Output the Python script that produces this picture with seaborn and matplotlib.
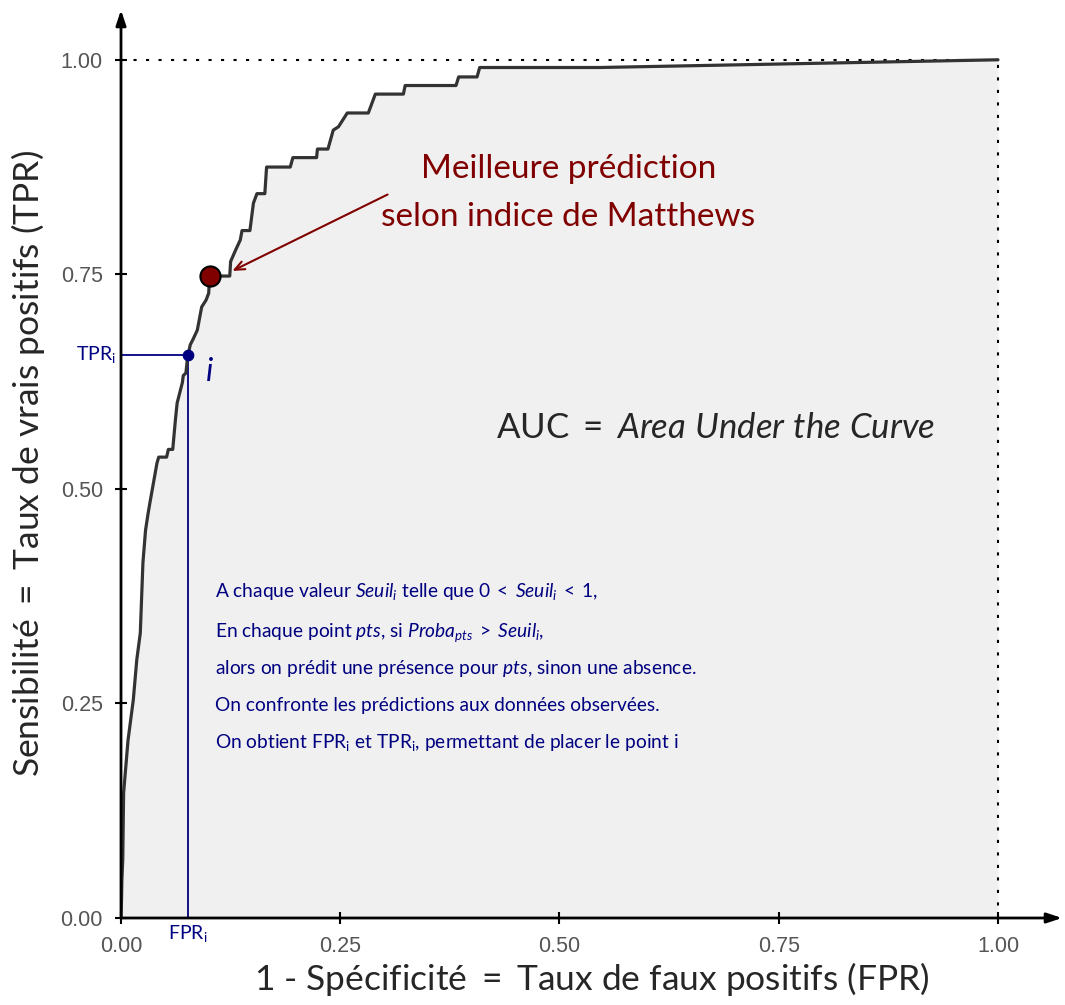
import numpy as np
import pandas as pd
import matplotlib
matplotlib.use("Agg")
import matplotlib.pyplot as plt
import seaborn as sns

# ROC curve (FPR, TPR)
fpr = [0.000, 0.0006, 0.001, 0.002, 0.003, 0.008, 0.014, 0.018, 0.022, 0.025,
       0.028, 0.031, 0.033, 0.041, 0.043, 0.052, 0.054, 0.059, 0.062, 0.064,
       0.070, 0.071, 0.074, 0.076, 0.079, 0.082, 0.087, 0.092, 0.097, 0.100,
       0.101, 0.124, 0.125, 0.131, 0.136, 0.138, 0.147, 0.151, 0.155, 0.164,
       0.166, 0.193, 0.196, 0.223, 0.224, 0.236, 0.242, 0.248, 0.253, 0.258,
       0.282, 0.290, 0.322, 0.324, 0.382, 0.385, 0.406, 0.409, 0.546, 1.000]
tpr = [0.000, 0.021, 0.044, 0.068, 0.146, 0.207, 0.254, 0.301, 0.332, 0.414,
       0.452, 0.472, 0.484, 0.530, 0.537, 0.537, 0.546, 0.546, 0.580, 0.600,
       0.624, 0.632, 0.635, 0.654, 0.668, 0.674, 0.685, 0.712, 0.720, 0.728,
       0.748, 0.748, 0.765, 0.779, 0.790, 0.801, 0.801, 0.833, 0.844, 0.844,
       0.875, 0.875, 0.886, 0.886, 0.896, 0.896, 0.918, 0.922, 0.930, 0.938,
       0.938, 0.960, 0.960, 0.970, 0.970, 0.980, 0.980, 0.991, 0.991, 1.000]

point_i = (0.0764, 0.656)      # FPR_i, TPR_i
best_point = (0.1015, 0.748)   # best Matthews point

ticks = [0.0, 0.25, 0.5, 0.75, 1.0]
tick_labels = ["0.00", "0.25", "0.50", "0.75", "1.00"]

explain_lines = [
    r"A chaque valeur $\mathit{Seuil_i}$ telle que $0\;<\;\mathit{Seuil_i}\;<\;1$,",
    r"En chaque point $\mathit{pts}$, si $\mathit{Proba_{pts}}\;>\;\mathit{Seuil_i}$,",
    r"alors on prédit une présence pour $\mathit{pts}$, sinon une absence.",
    "On confronte les prédictions aux données observées.",
    r"On obtient FPR$_\mathrm{i}$ et TPR$_\mathrm{i}$, permettant de placer le point i",
]

roc = pd.DataFrame({"fpr": fpr, "tpr": tpr})

sns.set_style("ticks")
plt.rcParams["font.family"] = ["Lato", "DejaVu Sans"]
plt.rcParams["mathtext.fontset"] = "custom"
plt.rcParams["mathtext.rm"] = "Lato"
plt.rcParams["mathtext.it"] = "Lato:italic"
plt.rcParams["mathtext.bf"] = "Lato:bold"

navy = "#000080"
maroon = "#800000"

fig = plt.figure(figsize=(10.65, 10.05), dpi=100)
ax = fig.add_axes([121 / 1065, 1 - 918 / 1005, (1062 - 121) / 1065, (918 - 10) / 1005])
ax.set_xlim(0, 1.073)
ax.set_ylim(0, 1.058)

# area under the curve
ax.fill_between(roc["fpr"], roc["tpr"], 0, color="#f0f0f0", lw=0, zorder=0)

# dotted frame at 1
ax.plot([0, 1], [1, 1], color="black", lw=1.5, ls=(0, (1.5, 4.5)), zorder=1)
ax.plot([1, 1], [0, 1], color="black", lw=1.5, ls=(0, (1.5, 4.5)), zorder=1)

# point i guides
ax.plot([0, point_i[0]], [point_i[1], point_i[1]], color=navy, lw=1.3, zorder=2)
ax.plot([point_i[0], point_i[0]], [0, point_i[1]], color=navy, lw=1.3, zorder=2)

sns.lineplot(data=roc, x="fpr", y="tpr", sort=False, estimator=None,
             color="#333333", lw=2.3, ax=ax, zorder=3)

ax.scatter([point_i[0]], [point_i[1]], s=55, color=navy, zorder=4)
ax.scatter([best_point[0]], [best_point[1]], s=210, color=maroon,
           edgecolor="black", linewidth=1.5, zorder=5)

# axes with arrow heads
for sp in ax.spines.values():
    sp.set_visible(False)
ax.annotate("", xy=(1.073, 0), xytext=(0, 0),
            arrowprops=dict(arrowstyle="-|>,head_length=0.9,head_width=0.3",
                            color="black", lw=2, shrinkA=0, shrinkB=0), annotation_clip=False)
ax.annotate("", xy=(0, 1.058), xytext=(0, 0),
            arrowprops=dict(arrowstyle="-|>,head_length=0.9,head_width=0.3",
                            color="black", lw=2, shrinkA=0, shrinkB=0), annotation_clip=False)

ax.set_xticks(ticks)
ax.set_xticklabels(tick_labels)
ax.set_yticks(ticks)
ax.set_yticklabels(tick_labels)
ax.tick_params(direction="inout", length=8, width=1.5, color="black",
               labelsize=15.5, labelcolor="#555555", pad=9)
for lab in ax.get_xticklabels() + ax.get_yticklabels():
    lab.set_family(["Liberation Sans", "DejaVu Sans"])

ax.set_xlabel(r"1 - Spécificité $=$ Taux de faux positifs (FPR)", fontsize=25.5, labelpad=2)
ax.set_ylabel(r"Sensibilité $=$ Taux de vrais positifs (TPR)", fontsize=25.5, labelpad=10)

# annotation for Matthews point
ax.text(0.510, 0.8625, "Meilleure prédiction", color=maroon, fontsize=24,
        ha="center", va="baseline")
ax.text(0.510, 0.8065, "selon indice de Matthews", color=maroon, fontsize=24,
        ha="center", va="baseline")
ax.annotate("", xy=(0.127, 0.754), xytext=(0.304, 0.843),
            arrowprops=dict(arrowstyle="->,head_length=0.7,head_width=0.3",
                            color=maroon, lw=1.5, shrinkA=0, shrinkB=0))

ax.text(0.4276, 0.559, r"AUC $=$ $\mathit{Area\ Under\ the\ Curve}$", fontsize=25,
        ha="left", va="baseline")

ax.text(0.097, 0.626, "i", style="italic", color=navy, fontsize=23, va="baseline")
ax.text(-0.006, 0.650, r"TPR$_\mathrm{i}$", color=navy, fontsize=14,
        ha="right", va="baseline", clip_on=False)
ax.text(point_i[0], -0.006, r"FPR$_\mathrm{i}$", color=navy, fontsize=14,
        ha="center", va="top", clip_on=False)

baselines = [0.374, 0.3275, 0.284, 0.241, 0.198]
for txt, yb in zip(explain_lines, baselines):
    ax.text(0.107, yb, txt, color=navy, fontsize=13.8, ha="left", va="baseline")

fig.savefig("out.png", dpi=100)
